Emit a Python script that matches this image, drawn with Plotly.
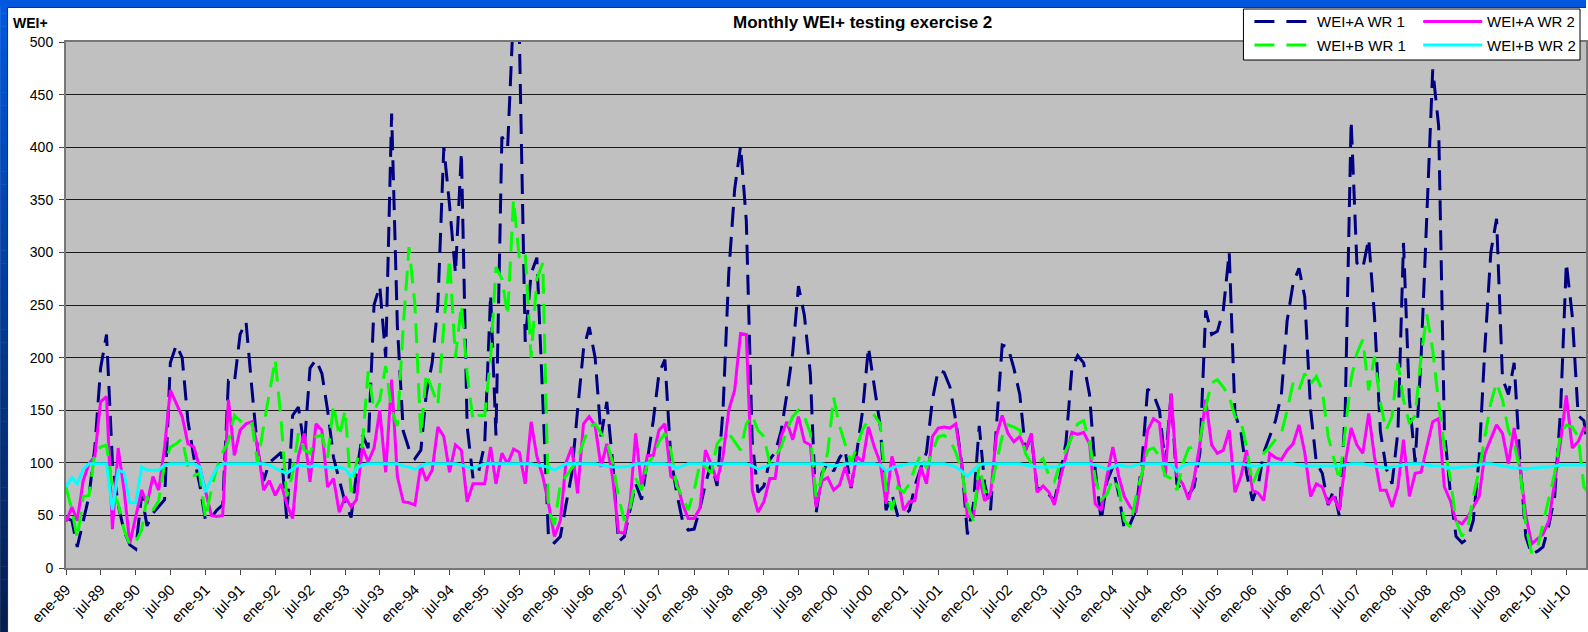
import plotly.graph_objects as go
import pandas as pd

# ---------------- data (monthly, Jan 1989 .. Nov 2010) ----------------
START_MONTH = "1989-01-01"

WEI_A_WR1 = [
    48, 45, 20, 45, 68, 115, 190, 222, 100, 60, 35, 22,
    18, 70, 40, 52, 58, 65, 195, 212, 200, 140, 105, 80,
    45, 48, 55, 60, 178, 176, 222, 234, 170, 112, 83, 100,
    105, 110, 47, 145, 153, 115, 190, 198, 185, 150, 105, 85,
    62, 48, 90, 127, 114, 250, 268, 200, 432, 230, 130, 113,
    104, 112, 165, 195, 250, 400, 345, 280, 395, 135, 85, 92,
    118, 260, 126, 410, 400, 530, 510, 215, 280, 295, 150, 28,
    24, 30, 60, 90, 150, 208, 229, 200, 125, 158, 100, 25,
    30, 58, 80, 65, 100, 140, 185, 198, 105, 72, 45, 36,
    37, 57, 80, 100, 78, 150, 280, 360, 401, 330, 120, 72,
    78, 103, 110, 130, 165, 205, 268, 240, 185, 52, 90, 100,
    92, 105, 112, 76, 110, 150, 210, 170, 135, 55, 70, 50,
    50, 55, 78, 95, 110, 160, 188, 186, 172, 140, 100, 32,
    60, 135, 80, 55, 135, 212, 210, 190, 165, 112, 125, 75,
    76, 70, 64, 88, 120, 190, 202, 195, 165, 93, 45, 82,
    96, 70, 37, 42, 55, 100, 170, 165, 150, 99, 165, 80,
    74, 70, 77, 110, 245, 222, 225, 245, 300, 147, 130, 90,
    64, 80, 110, 125, 140, 165, 235, 270, 285, 258, 150, 100,
    90, 60, 74, 49, 150, 425, 290, 285, 313, 240, 130, 95,
    80, 130, 309, 160, 100, 200, 330, 474, 420, 130, 72, 30,
    24, 28, 45, 105, 210, 300, 332, 180, 165, 195, 100, 30,
    13, 16, 20, 41, 68, 150, 290, 240, 145, 140, 100,
]

WEI_A_WR2 = [
    44, 58, 45, 83, 99, 106, 158, 163, 37, 114, 74, 23,
    49, 74, 61, 87, 74, 115, 169, 156, 144, 118, 115, 96,
    74, 50, 49, 50, 160, 107, 131, 137, 139, 115, 74, 83,
    69, 80, 61, 47, 106, 128, 82, 137, 131, 77, 85, 53,
    68, 58, 65, 115, 101, 114, 150, 91, 179, 87, 63, 62,
    60, 98, 83, 93, 134, 125, 91, 117, 112, 63, 80, 80,
    80, 115, 80, 109, 99, 113, 110, 80, 139, 106, 87, 61,
    30, 45, 100, 115, 71, 137, 144, 135, 96, 118, 85, 34,
    33, 64, 128, 77, 107, 107, 131, 137, 87, 83, 61, 47,
    47, 57, 112, 98, 83, 106, 150, 169, 223, 222, 74, 53,
    63, 85, 85, 125, 139, 122, 144, 120, 117, 58, 83, 86,
    74, 79, 96, 77, 106, 101, 134, 115, 100, 61, 106, 87,
    55, 63, 64, 96, 80, 125, 133, 134, 133, 137, 99, 49,
    49, 87, 64, 70, 125, 145, 128, 120, 125, 112, 128, 72,
    78, 72, 60, 85, 106, 129, 127, 129, 118, 61, 55, 87,
    115, 87, 68, 58, 53, 87, 131, 142, 138, 87, 166, 88,
    80, 65, 85, 118, 160, 117, 109, 112, 131, 72, 87, 112,
    74, 71, 64, 109, 105, 103, 112, 118, 136, 110, 68, 80,
    77, 61, 68, 55, 100, 133, 117, 109, 147, 106, 74, 74,
    58, 77, 122, 68, 90, 91, 115, 139, 142, 77, 64, 45,
    42, 49, 58, 68, 109, 122, 136, 128, 99, 133, 95, 50,
    23, 28, 32, 45, 80, 120, 164, 114, 120, 133, 128,
]

WEI_B_WR1 = [
    77, 55, 28, 68, 69, 110, 115, 117, 74, 61, 36, 22,
    25, 36, 68, 55, 64, 99, 115, 118, 123, 96, 88, 90,
    47, 75, 95, 110, 120, 145, 140, 135, 137, 99, 135, 168,
    198, 140, 68, 90, 128, 112, 109, 125, 126, 105, 155, 125,
    150, 72, 100, 118, 187, 150, 160, 192, 150, 135, 230, 305,
    250, 126, 185, 170, 155, 230, 294, 200, 250, 185, 140, 145,
    145, 200, 286, 275, 240, 350, 295, 300, 200, 275, 290, 55,
    41, 80, 87, 95, 103, 120, 134, 137, 128, 120, 100, 68,
    45, 58, 85, 74, 99, 106, 120, 128, 112, 78, 68, 55,
    74, 100, 96, 90, 118, 125, 128, 120, 112, 137, 145, 131,
    125, 99, 106, 115, 131, 144, 150, 144, 128, 68, 87, 110,
    162, 135, 117, 100, 115, 132, 140, 145, 137, 74, 55, 77,
    72, 80, 95, 108, 95, 110, 125, 126, 122, 110, 93, 60,
    45, 100, 72, 74, 99, 125, 136, 134, 131, 109, 99, 99,
    104, 87, 82, 100, 112, 125, 137, 140, 120, 85, 65, 70,
    85, 75, 45, 39, 68, 90, 112, 114, 106, 88, 85, 74,
    99, 114, 115, 122, 153, 176, 179, 172, 163, 144, 140, 115,
    80, 93, 109, 115, 122, 128, 150, 176, 169, 185, 175, 182,
    169, 125, 106, 83, 131, 180, 204, 217, 169, 201, 157, 131,
    144, 195, 160, 137, 145, 201, 241, 207, 157, 115, 85, 45,
    30, 39, 68, 93, 125, 157, 176, 160, 131, 118, 93, 40,
    14, 20, 42, 68, 90, 128, 136, 134, 125, 77, 70,
]

WEI_B_WR2 = [
    77, 86, 80, 94, 99, 99, 99, 99, 55, 93, 91, 62,
    62, 96, 93, 93, 93, 98, 99, 99, 99, 99, 99, 96,
    72, 85, 95, 99, 99, 99, 99, 99, 99, 99, 99, 98,
    95, 92, 90, 94, 98, 97, 96, 98, 96, 96, 95, 96,
    94, 87, 95, 98, 99, 99, 99, 99, 99, 99, 97, 96,
    94, 97, 99, 99, 99, 99, 99, 99, 98, 96, 95, 97,
    99, 99, 99, 99, 99, 99, 99, 99, 99, 98, 97, 96,
    93, 96, 99, 99, 99, 99, 99, 99, 98, 97, 96, 96,
    96, 97, 99, 99, 99, 99, 99, 99, 98, 95, 97, 99,
    99, 99, 99, 99, 99, 99, 99, 99, 99, 99, 97, 94,
    96, 98, 99, 99, 99, 99, 99, 99, 99, 99, 99, 98,
    97, 98, 99, 99, 99, 99, 99, 99, 98, 92, 95, 97,
    98, 99, 99, 99, 99, 99, 99, 99, 98, 96, 92, 87,
    93, 98, 99, 99, 99, 99, 99, 99, 99, 98, 97, 96,
    96, 96, 96, 97, 99, 99, 99, 99, 99, 98, 96, 94,
    96, 98, 97, 96, 98, 99, 99, 99, 99, 99, 98, 92,
    97, 99, 99, 99, 99, 99, 99, 99, 99, 99, 99, 98,
    97, 97, 98, 99, 99, 99, 99, 99, 98, 97, 97, 97,
    97, 97, 97, 97, 98, 99, 99, 99, 98, 97, 96, 95,
    96, 97, 98, 99, 99, 99, 98, 97, 97, 96, 95, 95,
    96, 96, 97, 98, 99, 99, 98, 97, 96, 95, 95, 94,
    95, 95, 96, 96, 97, 98, 98, 98, 98, 98, 98,
]

TICK_TEXT = [
    "ene-89", "jul-89", "ene-90", "jul-90", "ene-91", "jul-91", "ene-92", "jul-92",
    "ene-93", "jul-93", "ene-94", "jul-94", "ene-95", "jul-95", "ene-96", "jul-96",
    "ene-97", "jul-97", "ene-98", "jul-98", "ene-99", "jul-99", "ene-00", "jul-00",
    "ene-01", "jul-01", "ene-02", "jul-02", "ene-03", "jul-03", "ene-04", "jul-04",
    "ene-05", "jul-05", "ene-06", "jul-06", "ene-07", "jul-07", "ene-08", "jul-08",
    "ene-09", "jul-09", "ene-10", "jul-10",
]
SERIES_NAMES = ["WEI+A WR 1", "WEI+A WR 2", "WEI+B WR 1", "WEI+B WR 2"]
TITLE = "Monthly WEI+ testing exercise 2"
Y_LABEL = "WEI+"

# ---------------- geometry / style ----------------
W, H = 1588, 632
ML, MR, MT, MB = 66, 0, 42, 64
PW, PH = W - ML - MR, H - MT - MB
FONT = "Liberation Sans, Arial, sans-serif"


def px(x):
    return (x - ML) / PW


def py(y):
    return (H - MB - y) / PH


dates = pd.date_range(START_MONTH, periods=len(WEI_A_WR1), freq="MS")
tick_dates = pd.date_range(START_MONTH, periods=len(TICK_TEXT), freq="6MS")

styles = [
    (WEI_A_WR1, "#000080", "20px,10px", 3),
    (WEI_A_WR2, "#FF00FF", "solid", 3),
    (WEI_B_WR1, "#00FF00", "20px,10px", 3),
    (WEI_B_WR2, "#00FFFF", "solid", 3),
]

fig = go.Figure()
for name, (vals, color, dash, width) in zip(SERIES_NAMES, styles):
    fig.add_trace(go.Scatter(
        x=dates, y=vals, mode="lines", name=name, showlegend=False,
        line=dict(color=color, width=width, dash=dash),
    ))

shapes = []
# outer blue frame (top strip + left gradient strip)
shapes.append(dict(type="rect", xref="paper", yref="paper", x0=px(0), x1=px(W), y0=py(0), y1=py(7.5),
                   fillcolor="#0057DD", line=dict(width=0), layer="above"))
N = 48
c0 = (0, 88, 222)
c1 = (6, 30, 78)
for k in range(N):
    t = k / (N - 1)
    col = "rgb(%d,%d,%d)" % tuple(round(a + (b - a) * t) for a, b in zip(c0, c1))
    shapes.append(dict(type="rect", xref="paper", yref="paper", x0=px(0), x1=px(7.5),
                       y0=py(k * H / N), y1=py((k + 1) * H / N + 0.5),
                       fillcolor=col, line=dict(width=0), layer="above"))
shapes.append(dict(type="line", xref="paper", yref="paper", x0=px(7.5), x1=px(W), y0=py(7.5), y1=py(7.5),
                   line=dict(color="#1b2a55", width=1), layer="above"))
shapes.append(dict(type="line", xref="paper", yref="paper", x0=px(7.5), x1=px(7.5), y0=py(7.5), y1=py(H),
                   line=dict(color="#1b2a55", width=1), layer="above"))

# legend box
LX0, LX1, LY0, LY1 = 1245, 1582, 9, 60
shapes.append(dict(type="rect", xref="paper", yref="paper", x0=px(LX0), x1=px(LX1), y0=py(LY0), y1=py(LY1),
                   fillcolor="white", line=dict(color="black", width=1), layer="above"))
rows = [21.5, 45]
annotations = []
leg_items = [
    (0, 0, "#000080", True), (1, 0, "#FF00FF", False),
    (0, 1, "#00FF00", True), (1, 1, "#00FFFF", False),
]
for (col, row, color, dashed), nm in zip(leg_items, SERIES_NAMES):
    yy = rows[row]
    if col == 0:
        sx0, sx1, tx = 1256, 1308, 1317
    else:
        sx0, sx1, tx = 1425, 1484, 1487
    if dashed:
        segs = [(sx0, sx0 + 20), (sx1 - 20, sx1)]
    else:
        segs = [(sx0, sx1)]
    for a, b in segs:
        shapes.append(dict(type="line", xref="paper", yref="paper", x0=px(a), x1=px(b), y0=py(yy), y1=py(yy),
                           line=dict(color=color, width=3), layer="above"))
    annotations.append(dict(x=px(tx), y=py(yy), xref="paper", yref="paper", text=nm, showarrow=False,
                            xanchor="left", yanchor="middle", font=dict(family=FONT, size=15, color="black")))

annotations.append(dict(x=px(864), y=py(22.5), xref="paper", yref="paper", text="<b>%s</b>" % TITLE,
                        showarrow=False, xanchor="center", yanchor="middle",
                        font=dict(family=FONT, size=17, color="black")))
annotations.append(dict(x=px(11), y=py(22.5), xref="paper", yref="paper", text="<b>%s</b>" % Y_LABEL,
                        showarrow=False, xanchor="left", yanchor="middle",
                        font=dict(family=FONT, size=14, color="black")))

fig.update_layout(
    width=W, height=H,
    margin=dict(l=ML, r=MR, t=MT, b=MB, pad=0),
    paper_bgcolor="white", plot_bgcolor="#C0C0C0",
    font=dict(family=FONT, size=14, color="black"),
    shapes=shapes, annotations=annotations,
    showlegend=False,
)
fig.update_xaxes(
    type="date", range=["1989-01-01", "2010-10-12"],
    tickmode="array", tickvals=tick_dates, ticktext=TICK_TEXT, tickangle=-45,
    ticks="outside", ticklen=5, tickcolor="#444", tickwidth=1,
    showgrid=False, showline=True, linecolor="#777", linewidth=2, mirror=True,
    tickfont=dict(family=FONT, size=15, color="black"), zeroline=False,
)
fig.update_yaxes(
    range=[0, 500], tick0=0, dtick=50,
    ticks="outside", ticklen=5, tickcolor="#444", tickwidth=1,
    showgrid=True, gridcolor="#1a1a1a", gridwidth=1,
    showline=True, linecolor="#777", linewidth=2, mirror=True,
    tickfont=dict(family=FONT, size=14, color="black"), zeroline=False,
    ticklabelstandoff=3,
)

fig.write_html(
    "out.html",
    config={"displayModeBar": False},
    post_script="document.body.style.margin='0';document.body.style.padding='0';"
                "document.body.style.overflow='hidden';",
)
